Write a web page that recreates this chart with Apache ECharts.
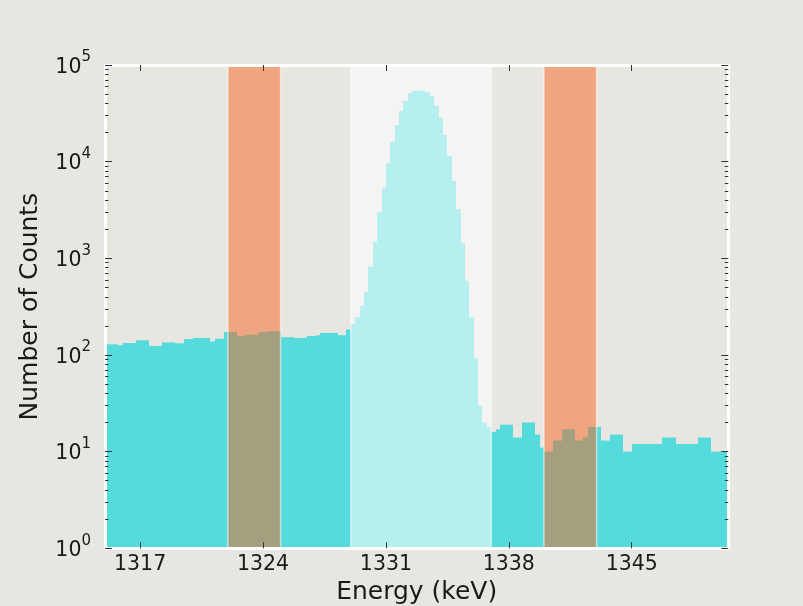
<!DOCTYPE html>
<html>
<head>
<meta charset="utf-8">
<script src="https://cdn.jsdelivr.net/npm/echarts@6.0.0/dist/echarts.min.js"></script>
<style>
  html, body { margin: 0; padding: 0; background: #e8e6e1; }
  #chart { width: 803px; height: 606px; }
</style>
</head>
<body>
<div id="chart"></div>
<script>
// ---- data ----
const binStart = 1315;      // keV, left edge of first bin
const binWidth = 0.25;      // keV
const countsLeft = [
  129,129,129,126,133,133,133,142,142,142,124,124,124,135,135,135,
  132,132,146,146,150,150,150,150,138,147,147,173,173,173,157,157,
  162,162,162,173,173,176,176,176,153,153,153,150,150,151,157,157,
  160,169,169,169,169,160,160,184
];
const countsPeak = [
  209,245,321,451,818,1484,2990,5373,9607,16076,23920,33390,42690,51260,54150,54500,
  54000,52500,47730,37880,28270,18850,11437,6302,3212,1429,586,249,92,30,20,18
];
const countsRight = [
  16,17,19,19,19,14,14,20,20,20,15,11,10,10,13,13,17,17,17,13,13,14,18,18,18,
  13,13,15,15,15,10,10,12,12,12,12,12,12,12,14,14,14,12,12,12,12,12,14,14,14,
  10,10,10,10
];
const peakWindow = [1329, 1337];
const sideWindows = [[1322, 1325], [1340, 1343]];
const xTicks = [1317, 1324, 1331, 1338, 1345];
const xTickLabels = ['1317', '1324', '1331', '1338', '1345'];
const yTicks = [1, 10, 100, 1000, 10000, 100000];
const yTickExp = ['0', '1', '2', '3', '4', '5'];
const yMinorTicks = [2,3,4,5,6,7,8,9,20,30,40,50,60,70,80,90,200,300,400,500,600,700,800,900,
  2000,3000,4000,5000,6000,7000,8000,9000,20000,30000,40000,50000,60000,70000,80000,90000];

// ---- build ----
const counts = countsLeft.concat(countsPeak, countsRight);
const histData = counts.map((c, i) => [binStart + i * binWidth, binStart + (i + 1) * binWidth, c]);
const windowData = [[peakWindow[0], peakWindow[1], 0]].concat(sideWindows.map(w => [w[0], w[1], 1]));

const FONT = 'DejaVu Sans';
const TXT = '#1a1a1a';
const TICK = '#333333';
const BAR = '#56dbdc';

function xAxisBase(pos, showLabel) {
  return {
    type: 'value', position: pos, min: 1315, max: 1350.5, z: 10,
    axisLine: { show: true, lineStyle: { color: '#ffffff', width: 3 } },
    axisTick: { show: true, inside: true, length: 6, customValues: xTicks, lineStyle: { color: TICK, width: 1 } },
    axisLabel: { show: showLabel, customValues: xTicks, fontSize: 20.5, fontFamily: FONT, color: TXT, margin: 6,
      formatter: function (v) {
        const idx = xTicks.findIndex(t => Math.abs(t - v) < 1e-6);
        return idx >= 0 ? xTickLabels[idx] : '';
      } },
    splitLine: { show: false }
  };
}
function yAxisBase(pos, minor) {
  return {
    type: 'log', logBase: 10, position: pos, min: 1, max: 100000, z: 10,
    axisLine: { show: !minor, lineStyle: { color: '#ffffff', width: 3 } },
    axisTick: { show: true, inside: true, length: minor ? 3.5 : 7,
      customValues: minor ? yMinorTicks : yTicks, lineStyle: { color: TICK, width: 1 } },
    axisLabel: { show: false },
    splitLine: { show: false }
  };
}

const yMain = yAxisBase('left', false);
yMain.axisLabel = {
  show: true, customValues: yTicks, margin: 14,
  formatter: function (v) {
    const idx = yTicks.findIndex(t => Math.abs(t - v) / t < 1e-6);
    return '{b|10}{s|' + yTickExp[idx] + '}';
  },
  rich: {
    b: { fontSize: 20.5, fontFamily: FONT, color: TXT, verticalAlign: 'bottom', padding: [7, 0, 2, 0] },
    s: { fontSize: 15, fontFamily: FONT, color: TXT, verticalAlign: 'top' }
  }
};
yMain.name = 'Number of Counts';
yMain.nameLocation = 'middle';
yMain.nameGap = 62;
yMain.nameTextStyle = { fontSize: 25, fontFamily: FONT, color: TXT };

const xMain = xAxisBase('bottom', true);
xMain.name = 'Energy (keV)';
xMain.nameLocation = 'middle';
xMain.nameGap = 32;
xMain.nameTextStyle = { fontSize: 25, fontFamily: FONT, color: TXT };

const chart = echarts.init(document.getElementById('chart'), null, { renderer: 'canvas', width: 803, height: 606 });
chart.setOption({
  backgroundColor: '#e8e6e1',
  animation: false,
  grid: { left: 105, right: 74.7, top: 65, bottom: 57.7, outerBoundsMode: 'none', containLabel: false },
  xAxis: [xMain, xAxisBase('top', false)],
  yAxis: [yMain, yAxisBase('left', true), yAxisBase('right', false), yAxisBase('right', true)],
  series: [
    {
      type: 'custom', name: 'counts', xAxisIndex: 0, yAxisIndex: 0, z: 2,
      data: histData,
      encode: { x: [0, 1], y: 2 },
      renderItem: function (params, api) {
        const p0 = api.coord([api.value(0), api.value(2)]);
        const p1 = api.coord([api.value(1), 1]);
        const l = Math.round(p0[0]), r = Math.round(p1[0]);
        return { type: 'rect', shape: { x: l, y: p0[1], width: r - l, height: p1[1] - p0[1] },
          style: { fill: BAR } };
      }
    },
    {
      type: 'custom', name: 'windows', xAxisIndex: 0, yAxisIndex: 0, z: 3,
      data: windowData,
      encode: { x: [0, 1] },
      renderItem: function (params, api) {
        const cs = params.coordSys;
        const p0 = api.coord([api.value(0), 1]);
        const p1 = api.coord([api.value(1), 1]);
        const isPeak = api.value(2) === 0;
        return { type: 'rect', shape: { x: p0[0], y: cs.y, width: p1[0] - p0[0], height: cs.height },
          style: { fill: isPeak ? 'rgba(255,255,255,0.57)' : 'rgba(249,95,26,0.48)',
                   stroke: 'rgba(255,255,255,0.55)', lineWidth: 1.5 } };
      }
    }
  ]
});
</script>
</body>
</html>
